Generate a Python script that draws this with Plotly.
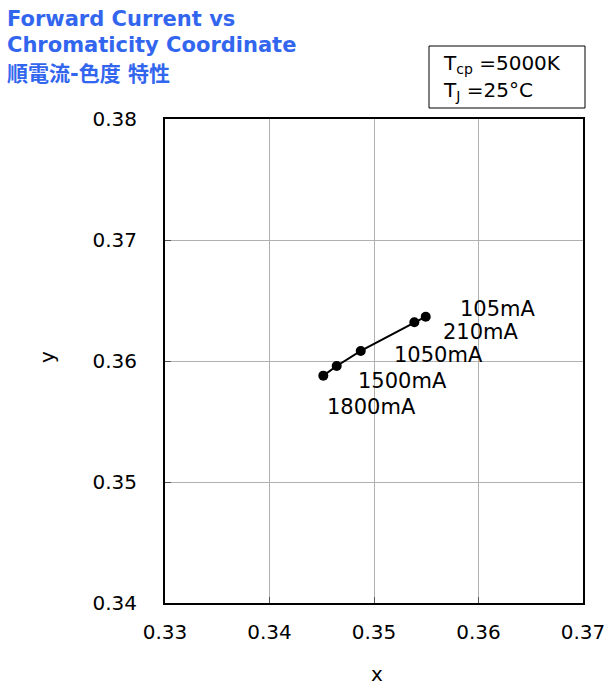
import plotly.graph_objects as go

# Data
currents = ["1800mA", "1500mA", "1050mA", "210mA", "105mA"]
cx = [0.34515, 0.34643, 0.34873, 0.35386, 0.35495]
cy = [0.35879, 0.35959, 0.36083, 0.36320, 0.36366]
x_ticks = [0.33, 0.34, 0.35, 0.36, 0.37]
y_ticks = [0.34, 0.35, 0.36, 0.37, 0.38]

# label pixel offsets (style)
label_dx = [48, 66, 78, 67, 72]
label_dy = [31, 15, 4, 10, -8]

FONT = "DejaVu Sans"
BLUE = "#3366ee"

L, R, T, B = 165, 23, 119, 94
PW, PH = 606 - L - R, 697 - T - B


def px(xp):
    return (xp - L) / PW


def py(yp):
    return (697 - B - yp) / PH


fig = go.Figure()
fig.add_trace(go.Scatter(
    x=cx, y=cy, mode="lines+markers",
    line=dict(color="black", width=2),
    marker=dict(color="black", size=10),
    showlegend=False, hoverinfo="skip",
))

for i, lab in enumerate(currents):
    fig.add_annotation(
        x=cx[i], y=cy[i], xref="x", yref="y", text=lab, showarrow=False,
        xshift=label_dx[i], yshift=-label_dy[i],
        font=dict(family=FONT, size=21, color="black"),
    )

# titles
title_lines = ["Forward Current vs", "Chromaticity Coordinate", "順電流-色度 特性"]
title_y = [19, 45, 74]
for t, yp in zip(title_lines, title_y):
    fig.add_annotation(
        x=px(5), y=py(yp), xref="paper", yref="paper",
        xanchor="left", yanchor="middle", showarrow=False,
        text="<b>%s</b>" % t,
        font=dict(family=FONT + ", Noto Sans CJK JP", size=21, color=BLUE),
    )

# condition box
fig.add_shape(type="rect", xref="paper", yref="paper",
              x0=px(429), x1=px(585), y0=py(108), y1=py(46),
              line=dict(color="black", width=1), fillcolor="white")
fig.add_annotation(
    x=px(441), y=py(64), xref="paper", yref="paper",
    xanchor="left", yanchor="middle", showarrow=False,
    text="T<sub>cp</sub> =5000K", font=dict(family=FONT, size=20, color="black"),
)
fig.add_annotation(
    x=px(441), y=py(91), xref="paper", yref="paper",
    xanchor="left", yanchor="middle", showarrow=False,
    text="T<sub>J</sub> =25°C", font=dict(family=FONT, size=20, color="black"),
)

# axis titles
fig.add_annotation(x=px(377), y=py(688), xref="paper", yref="paper",
                   showarrow=False, text="x",
                   font=dict(family=FONT, size=20, color="black"))
fig.add_annotation(x=px(33), y=py(357), xref="paper", yref="paper",
                   showarrow=False, text="y", textangle=-90,
                   font=dict(family=FONT, size=20, color="black"))

axis_common = dict(
    showgrid=True, gridcolor="#b0b0b0", gridwidth=1,
    showline=True, linecolor="black", linewidth=2, mirror=True,
    ticks="inside", ticklen=6, tickcolor="#555555", tickwidth=1,
    tickfont=dict(family=FONT, size=20, color="black"),
    zeroline=False, automargin=False,
)

fig.update_xaxes(range=[0.33, 0.37], tickvals=x_ticks,
                 ticktext=["%.2f" % v for v in x_ticks],
                 ticklabelstandoff=10, **axis_common)
fig.update_yaxes(range=[0.34, 0.38], tickvals=y_ticks,
                 ticktext=["%.2f" % v for v in y_ticks],
                 ticklabelstandoff=22, **axis_common)

fig.update_layout(
    width=606, height=697,
    margin=dict(l=L, r=R, t=T, b=B, autoexpand=False),
    paper_bgcolor="white", plot_bgcolor="white",
    font=dict(family=FONT),
)

fig.write_html(
    "out.html",
    config={"displayModeBar": False},
    post_script="document.body.style.margin='0';document.body.style.overflow='hidden';",
)
